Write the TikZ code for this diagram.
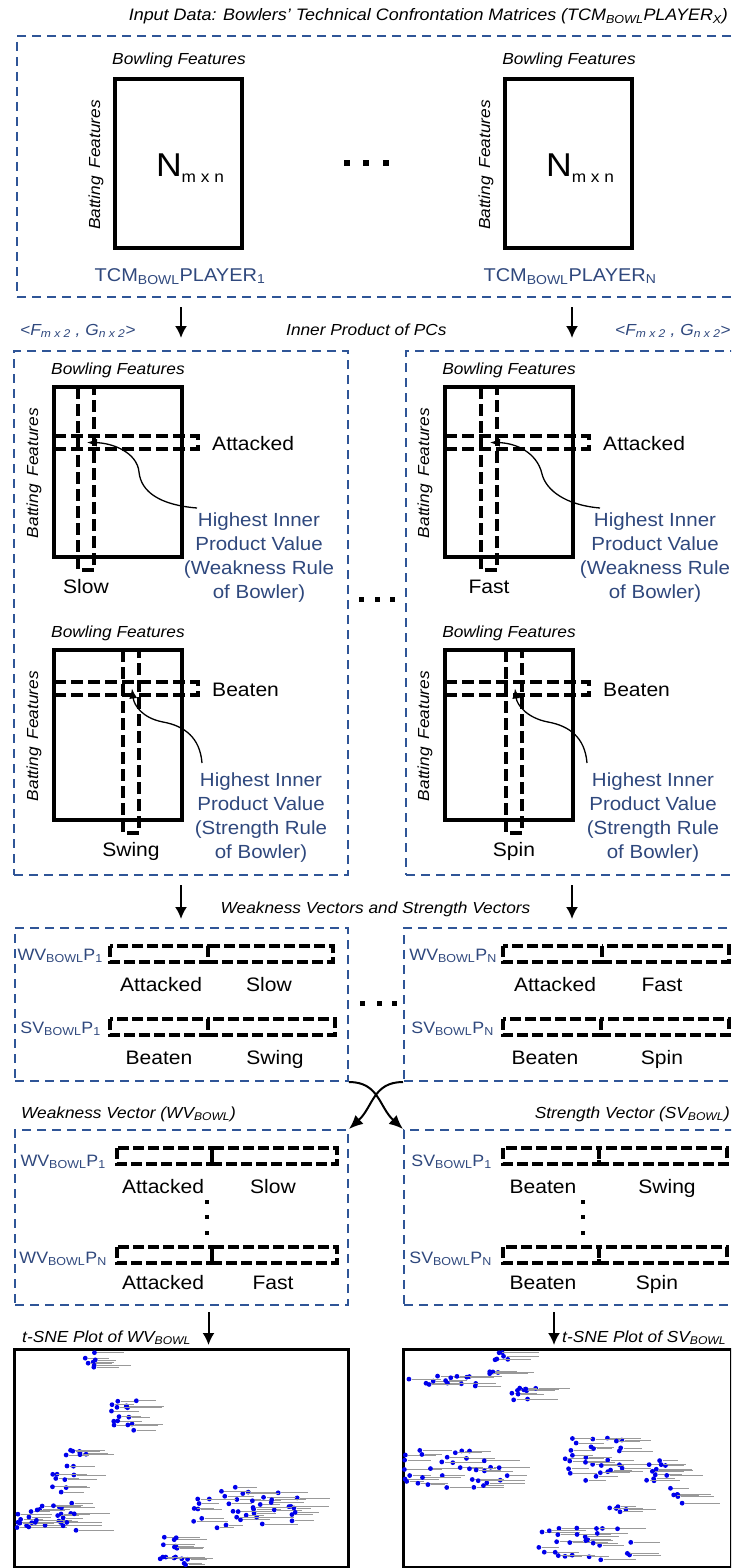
\documentclass[tikz,border=0pt]{standalone}
\usepackage{fontspec}
\setmainfont{Liberation Sans}[FakeStretch=1.08]
\usetikzlibrary{arrows.meta}
\definecolor{tcm-frame}{RGB}{47,85,151}
\definecolor{tcm-blue}{RGB}{47,72,125}
\definecolor{tcm-dot}{RGB}{0,0,235}
\newcommand{\lo}[1]{\textsubscript{#1}}

\tikzset{
  secbox/.style={draw=tcm-frame, line width=2pt, dash pattern=on 9pt off 6pt, inner sep=0pt, anchor=north west},
  plotbox/.style={draw, line width=3pt, inner sep=0pt, anchor=north west},
  matbox/.style={draw, line width=4pt},
  pcband/.style={line width=3.4pt, dash pattern=on 12pt off 5pt},
  vecbar/.style={line width=3.6pt, dash pattern=on 11pt off 4pt},
  flow/.style={-{Latex[length=12pt,width=12pt]}, line width=2pt},
  pointer/.style={-{Latex[length=10pt,width=8pt]}, line width=1.3pt},
  swap/.style={-{Latex[length=14pt,width=12pt]}, line width=2pt},
  steplab/.style={font=\fontsize{16}{19}\selectfont\itshape, inner sep=0pt},
  featlab/.style={font=\fontsize{19.5}{23}\selectfont, inner sep=0pt},
  tcmlab/.style={font=\fontsize{18.5}{22}\selectfont, text=tcm-blue, inner sep=0pt},
  rulelab/.style={font=\fontsize{19}{24}\selectfont, text=tcm-blue, align=center, inner sep=0pt},
  veclab/.style={font=\fontsize{16.5}{19}\selectfont, text=tcm-blue, inner sep=0pt, anchor=base east},
  tsne-txt/.style={draw=black!40, line width=0.7pt},
}

\begin{document}
\begin{tikzpicture}[x=1pt,y=-1pt]
    \useasboundingbox (0,0) rectangle (731,1568);
    \clip (0,0) rectangle (731,1568);

    % input matrices
    \node[steplab, font=\fontsize{16.6}{19}\selectfont\itshape, anchor=base east] (title) at (728,21)
        {Input Data: Bowlers' Technical Confrontation Matrices (TCM\lo{BOWL}PLAYER\lo{X})};
    \node[secbox, minimum width=729pt, minimum height=261pt] (inbox) at (16,35) {};
    \foreach \bx/\i/\who in {115/1/1, 505/2/N} {
        \draw[matbox] (\bx,79) rectangle ++(127,169);
        \node[steplab, anchor=base] (bowl-in\i) at (\bx+64,65) {Bowling Features};
        \node[steplab, rotate=90] (bat-in\i) at (\bx-19,165) {Batting\hspace{0.5em}Features};
        \node[inner sep=0pt] (nmat\i) at (\bx+75,168)
            {\fontsize{33}{36}\selectfont N\raisebox{-6pt}{\fontsize{16}{18}\selectfont m x n}};
        \node[tcmlab, anchor=base] (tcm\i) at (\bx+65,281) {TCM\lo{BOWL}PLAYER\lo{\who}};
    }
    \foreach \dx in {347,366,386}
        \fill (\dx-3,160) rectangle ++(6,6);

    % inner product of PCs
    \node[secbox, minimum width=334pt, minimum height=524pt] (pcL) at (13,350) {};
    \node[secbox, minimum width=332pt, minimum height=524pt] (pcR) at (405,350) {};
    \draw[flow] ([yshift=-9pt]inbox.south -| pcL.north) -- ([yshift=12pt]pcL.north);
    \draw[flow] ([yshift=-9pt]inbox.south -| pcR.north) -- ([yshift=12pt]pcR.north);
    \node[steplab, text=tcm-blue, anchor=base west] (fgL) at (20,335) {<F\lo{m x 2} , G\lo{n x 2}>};
    \node[steplab, text=tcm-blue, anchor=base west] (fgR) at (615,335) {<F\lo{m x 2} , G\lo{n x 2}>};
    \node[steplab, anchor=base west] (inner) at (286,335) {Inner Product of PCs};

    \foreach \bx/\by/\cx/\ry/\i/\rowtxt/\coltxt in
        {54/387/78/436/1/Attacked/Slow, 445/387/481/436/2/Attacked/Fast,
         54/650/123/682/3/Beaten/Swing, 445/650/506/682/4/Beaten/Spin} {
        \draw[matbox] (\bx,\by) rectangle ++(128,170);
        \draw[pcband] (\cx,\by) -- ++(0,183) -- ++(16,0) -- ++(0,-183);
        \draw[pcband] (\bx,\ry) -- ++(144,0) -- ++(0,13) -- ++(-144,0);
        \node[steplab, anchor=base] (bowl\i) at (\bx+64,\by-13) {Bowling Features};
        \node[steplab, rotate=90] (bat\i) at (\bx-20,\by+86) {Batting\hspace{0.5em}Features};
        \node[featlab, anchor=west] (row\i) at (\bx+158,\ry+8) {\rowtxt};
        \node[featlab, anchor=base] (col\i) at (\cx+8,\by+206) {\coltxt};
        \coordinate (cell\i) at (\cx+9,\ry+6.5);
    }
    \node[rulelab] (rule1) at (259,558) {Highest Inner\\Product Value\\(Weakness Rule\\of Bowler)};
    \node[rulelab] (rule2) at (655,558) {Highest Inner\\Product Value\\(Weakness Rule\\of Bowler)};
    \node[rulelab] (rule3) at (261,818) {Highest Inner\\Product Value\\(Strength Rule\\of Bowler)};
    \node[rulelab] (rule4) at (653,818) {Highest Inner\\Product Value\\(Strength Rule\\of Bowler)};
    \draw[pointer] (197,508) .. controls (160,505) and (141,492) .. (139,472)
        .. controls (137,452) and (112,443) .. (cell1);
    \draw[pointer] (600,508) .. controls (565,505) and (546,490) .. (542,474)
        .. controls (537,452) and (515,443) .. (cell2);
    \draw[pointer] (202,763) .. controls (200,738) and (185,726) .. (163,722)
        .. controls (142,718) and (134,705) .. (cell3);
    \draw[pointer] (587,763) .. controls (585,738) and (570,726) .. (548,722)
        .. controls (527,718) and (517,705) .. (cell4);
    \foreach \dx in {361,377,392}
        \fill (\dx-2.5,596.5) rectangle ++(5,5);

    % weakness and strength vectors
    \node[secbox, minimum width=333pt, minimum height=153pt] (vecL) at (14,927) {};
    \node[secbox, minimum width=340pt, minimum height=153pt] (vecR) at (403,927) {};
    \draw[flow] ([yshift=-9pt]pcL.south) -- ++(0,34);
    \draw[flow] ([yshift=-9pt]pcR.south) -- ++(0,34);
    \node[steplab, anchor=base] (wsvec) at (375.5,913) {Weakness Vectors and Strength Vectors};

    \foreach \lx/\ly/\dv/\rx in {110/946/208/333, 110/1019/208/335, 503/946/602/729, 503/1019/601/729,
                                 117/1148/212/337, 117/1247/212/337, 503/1148/599/727, 503/1247/599/727} {
        \draw[vecbar] (\lx,\ly) rectangle (\dv,\ly+16);
        \draw[vecbar] (\dv,\ly) rectangle (\rx,\ly+16);
    }
    \node[veclab] (wv1) at (103,960) {WV\lo{BOWL}P\lo{1}};
    \node[veclab] (sv1) at (101,1033) {SV\lo{BOWL}P\lo{1}};
    \node[veclab] (wvn) at (497,960) {WV\lo{BOWL}P\lo{N}};
    \node[veclab] (svn) at (494,1033) {SV\lo{BOWL}P\lo{N}};
    \foreach \tx/\ty/\word [count=\j] in {161/991/Attacked, 269/991/Slow, 159/1064/Beaten, 275/1064/Swing,
                                         555/991/Attacked, 662/991/Fast, 545/1064/Beaten, 662/1064/Spin}
        \node[featlab, anchor=base] (vf\j) at (\tx,\ty) {\word};
    \foreach \dx in {362,379,394}
        \fill (\dx-2.5,1000.5) rectangle ++(5,5);

    % grouped vectors
    \node[secbox, minimum width=333pt, minimum height=175pt] (wvL) at (14,1129) {};
    \node[secbox, minimum width=340pt, minimum height=175pt] (svR) at (403,1129) {};
    \draw[swap] (vecL.south east) .. controls +(30,0) and +(-24,-22) .. (svR.north west);
    \draw[swap] (vecR.south west) .. controls +(-30,0) and +(24,-22) .. (wvL.north east);
    \node[steplab, anchor=base west] (wvtitle) at (21,1118) {Weakness Vector (WV\lo{BOWL})};
    \node[steplab, anchor=base east] (svtitle) at (730,1118) {Strength Vector (SV\lo{BOWL})};

    \node[veclab] (wvg1) at (106,1166) {WV\lo{BOWL}P\lo{1}};
    \node[veclab] (wvgn) at (107,1263) {WV\lo{BOWL}P\lo{N}};
    \node[veclab] (svg1) at (492,1166) {SV\lo{BOWL}P\lo{1}};
    \node[veclab] (svgn) at (492,1263) {SV\lo{BOWL}P\lo{N}};
    \foreach \tx/\ty/\word [count=\j] in {163/1193/Attacked, 273/1193/Slow, 163/1289/Attacked, 273/1289/Fast,
                                         543/1193/Beaten, 667/1193/Swing, 543/1289/Beaten, 657/1289/Spin}
        \node[featlab, anchor=base] (gf\j) at (\tx,\ty) {\word};
    \foreach \dx in {207,583}
        \foreach \dy in {1202,1217,1233}
            \fill (\dx-2.25,\dy-2.25) rectangle ++(4.5,4.5);

    % t-SNE plots
    \node[plotbox, minimum width=334pt, minimum height=218pt] (plotL) at (13,1348) {};
    \node[plotbox, minimum width=328pt, minimum height=218pt] (plotR) at (402,1348) {};
    \draw[flow] ([xshift=27pt,yshift=-6pt]wvL.south) -- ++(0,33);
    \draw[flow] ([xshift=-20pt,yshift=-6pt]svR.south) -- ++(0,33);
    \node[steplab, anchor=base west] (tsneL) at (22,1342) {t-SNE Plot of WV\lo{BOWL}};
    \node[steplab, anchor=base west] (tsneR) at (562,1342) {t-SNE Plot of SV\lo{BOWL}};

    \pgfmathsetseed{11}
    \begin{scope}
        \clip (plotL.north west) rectangle (plotL.south east);
        \foreach \cx/\cy/\w/\h/\n in {82/1352/18/16/7, 110/1398/30/40/16, 66/1450/22/6/7, 52/1465/25/28/10,
                                     17/1503/60/28/30, 193/1487/107/46/40, 162/1537/22/12/7, 160/1557/28/8/9} {
            \foreach \k in {1,...,\n} {
                \pgfmathsetmacro{\px}{\cx+\w*rnd}
                \pgfmathsetmacro{\py}{\cy+\h*rnd}
                \pgfmathsetmacro{\tl}{14+22*rnd}
                \draw[tsne-txt] (\px+3,\py) -- ++(\tl,0);
                \fill[tcm-dot] (\px,\py) circle (2.4);
            }
        }
    \end{scope}
    \begin{scope}
        \clip (plotR.north west) rectangle (plotR.south east);
        \foreach \cx/\cy/\w/\h/\n in {490/1351/18/9/6, 485/1367/14/8/4, 407/1376/80/10/14, 510/1388/50/12/10,
                                     403/1450/105/38/35, 552/1438/75/45/28, 645/1459/22/22/12,
                                     668/1488/15/16/6, 609/1506/18/7/5, 537/1528/95/32/28} {
            \foreach \k in {1,...,\n} {
                \pgfmathsetmacro{\px}{\cx+\w*rnd}
                \pgfmathsetmacro{\py}{\cy+\h*rnd}
                \pgfmathsetmacro{\tl}{14+22*rnd}
                \draw[tsne-txt] (\px+3,\py) -- ++(\tl,0);
                \fill[tcm-dot] (\px,\py) circle (2.4);
            }
        }
    \end{scope}
\end{tikzpicture}
\end{document}
